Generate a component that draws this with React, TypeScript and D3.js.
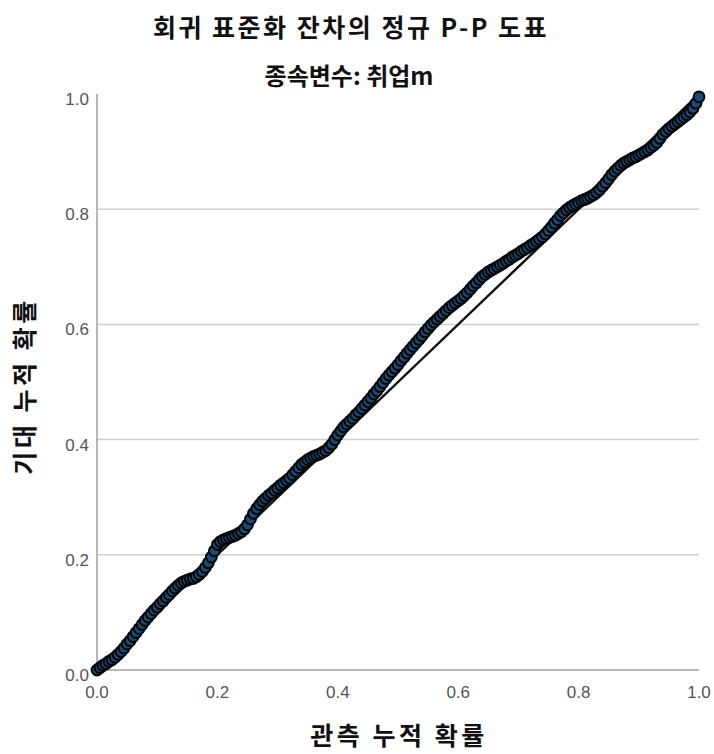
import React from "react";
import * as d3 from "d3";

const TITLE = "회귀 표준화 잔차의 정규 P-P 도표";
const SUBTITLE = "종속변수: 취업m";
const X_TITLE = "관측 누적 확률";
const Y_TITLE = "기대 누적 확률";
const TICKS = [0, 0.2, 0.4, 0.6, 0.8, 1.0];
const GRID = [0.2, 0.4, 0.6, 0.8];

const observed = [
  0.000, 0.005, 0.010, 0.015, 0.020, 0.025, 0.030, 0.035, 0.040, 0.045,
  0.050, 0.055, 0.060, 0.065, 0.070, 0.075, 0.080, 0.085, 0.090, 0.095,
  0.100, 0.105, 0.110, 0.115, 0.120, 0.125, 0.130, 0.135, 0.140, 0.145,
  0.150, 0.155, 0.160, 0.165, 0.170, 0.175, 0.180, 0.185, 0.190, 0.195,
  0.200, 0.205, 0.210, 0.215, 0.220, 0.225, 0.230, 0.235, 0.240, 0.245,
  0.250, 0.255, 0.260, 0.265, 0.270, 0.275, 0.280, 0.285, 0.290, 0.295,
  0.300, 0.305, 0.310, 0.315, 0.320, 0.325, 0.330, 0.335, 0.340, 0.345,
  0.350, 0.355, 0.360, 0.365, 0.370, 0.375, 0.380, 0.385, 0.390, 0.395,
  0.400, 0.405, 0.410, 0.415, 0.420, 0.425, 0.430, 0.435, 0.440, 0.445,
  0.450, 0.455, 0.460, 0.465, 0.470, 0.475, 0.480, 0.485, 0.490, 0.495,
  0.500, 0.505, 0.510, 0.515, 0.520, 0.525, 0.530, 0.535, 0.540, 0.545,
  0.550, 0.555, 0.560, 0.565, 0.570, 0.575, 0.580, 0.585, 0.590, 0.595,
  0.600, 0.605, 0.610, 0.615, 0.620, 0.625, 0.630, 0.635, 0.640, 0.645,
  0.650, 0.655, 0.660, 0.665, 0.670, 0.675, 0.680, 0.685, 0.690, 0.695,
  0.700, 0.705, 0.710, 0.715, 0.720, 0.725, 0.730, 0.735, 0.740, 0.745,
  0.750, 0.755, 0.760, 0.765, 0.770, 0.775, 0.780, 0.785, 0.790, 0.795,
  0.800, 0.805, 0.810, 0.815, 0.820, 0.825, 0.830, 0.835, 0.840, 0.845,
  0.850, 0.855, 0.860, 0.865, 0.870, 0.875, 0.880, 0.885, 0.890, 0.895,
  0.900, 0.905, 0.910, 0.915, 0.920, 0.925, 0.930, 0.935, 0.940, 0.945,
  0.950, 0.955, 0.960, 0.965, 0.970, 0.975, 0.980, 0.985, 0.990, 0.995,
  1.000,
];

const expected = [
  0.000, 0.004, 0.008, 0.011, 0.015, 0.018, 0.022, 0.027, 0.032, 0.038,
  0.045, 0.051, 0.058, 0.065, 0.072, 0.079, 0.086, 0.092, 0.098, 0.104,
  0.109, 0.115, 0.120, 0.126, 0.131, 0.137, 0.142, 0.147, 0.151, 0.154,
  0.156, 0.158, 0.159, 0.162, 0.166, 0.171, 0.178, 0.186, 0.196, 0.207,
  0.218, 0.223, 0.226, 0.228, 0.230, 0.232, 0.234, 0.237, 0.240, 0.245,
  0.252, 0.262, 0.272, 0.280, 0.287, 0.293, 0.298, 0.303, 0.307, 0.312,
  0.316, 0.321, 0.325, 0.329, 0.333, 0.339, 0.345, 0.351, 0.357, 0.361,
  0.365, 0.368, 0.371, 0.373, 0.375, 0.378, 0.381, 0.386, 0.392, 0.400,
  0.408, 0.415, 0.422, 0.427, 0.432, 0.437, 0.443, 0.448, 0.454, 0.460,
  0.466, 0.472, 0.479, 0.485, 0.492, 0.499, 0.506, 0.512, 0.518, 0.524,
  0.530, 0.537, 0.543, 0.550, 0.556, 0.562, 0.568, 0.574, 0.580, 0.587,
  0.593, 0.599, 0.604, 0.609, 0.614, 0.619, 0.624, 0.629, 0.633, 0.637,
  0.641, 0.645, 0.650, 0.655, 0.661, 0.667, 0.672, 0.678, 0.683, 0.687,
  0.691, 0.694, 0.697, 0.700, 0.703, 0.706, 0.710, 0.713, 0.717, 0.720,
  0.723, 0.727, 0.730, 0.733, 0.737, 0.740, 0.744, 0.748, 0.752, 0.757,
  0.763, 0.769, 0.776, 0.782, 0.789, 0.794, 0.799, 0.803, 0.806, 0.809,
  0.812, 0.815, 0.817, 0.819, 0.822, 0.825, 0.829, 0.834, 0.840, 0.846,
  0.853, 0.860, 0.866, 0.871, 0.876, 0.880, 0.883, 0.886, 0.889, 0.891,
  0.894, 0.897, 0.900, 0.903, 0.907, 0.911, 0.916, 0.923, 0.930, 0.935,
  0.940, 0.944, 0.948, 0.952, 0.956, 0.960, 0.964, 0.969, 0.975, 0.984,
  0.995,
];

const W = 714;
const H = 754;
const FONT = "'Noto Sans CJK KR', 'Noto Sans', Arial, sans-serif";
const TICK_FONT = "Arial, 'Liberation Sans', sans-serif";

export default function App() {
  const x = d3.scaleLinear().domain([0, 1]).range([97, 699]);
  const y = d3.scaleLinear().domain([0, 1]).range([670, 94]);
  const diag = d3.line<number>().x((d) => x(d)).y((d) => y(d));
  const pts = observed.map((o, i) => [o, expected[i]] as [number, number]);

  return (
    <svg
      width={W}
      height={H}
      style={{ position: "absolute", left: 0, top: 0, background: "#fff" }}
    >
      <rect x={0} y={0} width={W} height={H} fill="#fff" />
      <text x={351} y={37} textAnchor="middle" fontFamily={FONT} fontWeight="bold" fontSize={25} letterSpacing={2.5} fill="#111">
        {TITLE}
      </text>
      <text x={349} y={85} textAnchor="middle" fontFamily={FONT} fontWeight="bold" fontSize={24} fill="#111">
        {SUBTITLE}
      </text>

      {GRID.map((g) => (
        <line key={g} x1={x(0)} x2={x(1)} y1={y(g)} y2={y(g)} stroke="#cfcfcf" strokeWidth={1.5} />
      ))}
      <line x1={x(0)} x2={x(0)} y1={y(0)} y2={y(1)} stroke="#a0a0a0" strokeWidth={1.5} />
      <line x1={x(0)} x2={x(1)} y1={y(0)} y2={y(0)} stroke="#a0a0a0" strokeWidth={1.5} />

      {TICKS.map((t) => (
        <text key={"y" + t} x={89} y={y(t) + 5} dy="0.35em" textAnchor="end" fontFamily={TICK_FONT} fontSize={17} fill="#555">
          {d3.format(".1f")(t)}
        </text>
      ))}
      {TICKS.map((t) => (
        <text key={"x" + t} x={x(t)} y={y(0) + 22} dy="0.35em" textAnchor="middle" fontFamily={TICK_FONT} fontSize={17} fill="#555">
          {d3.format(".1f")(t)}
        </text>
      ))}

      <path d={diag([0, 1]) || ""} stroke="#111" strokeWidth={2.4} fill="none" />

      {pts.map((p, i) => (
        <circle key={i} cx={x(p[0])} cy={y(p[1])} r={5.4} fill="#1b4b72" stroke="#030507" strokeWidth={2} />
      ))}

      <text x={399} y={745} textAnchor="middle" fontFamily={FONT} fontWeight="bold" fontSize={25} letterSpacing={3.5} fill="#111">
        {X_TITLE}
      </text>
      <text
        transform={`translate(34,386) rotate(-90)`}
        textAnchor="middle"
        fontFamily={FONT}
        fontWeight="bold"
        fontSize={25}
        letterSpacing={3.5}
        fill="#111"
      >
        {Y_TITLE}
      </text>
    </svg>
  );
}
